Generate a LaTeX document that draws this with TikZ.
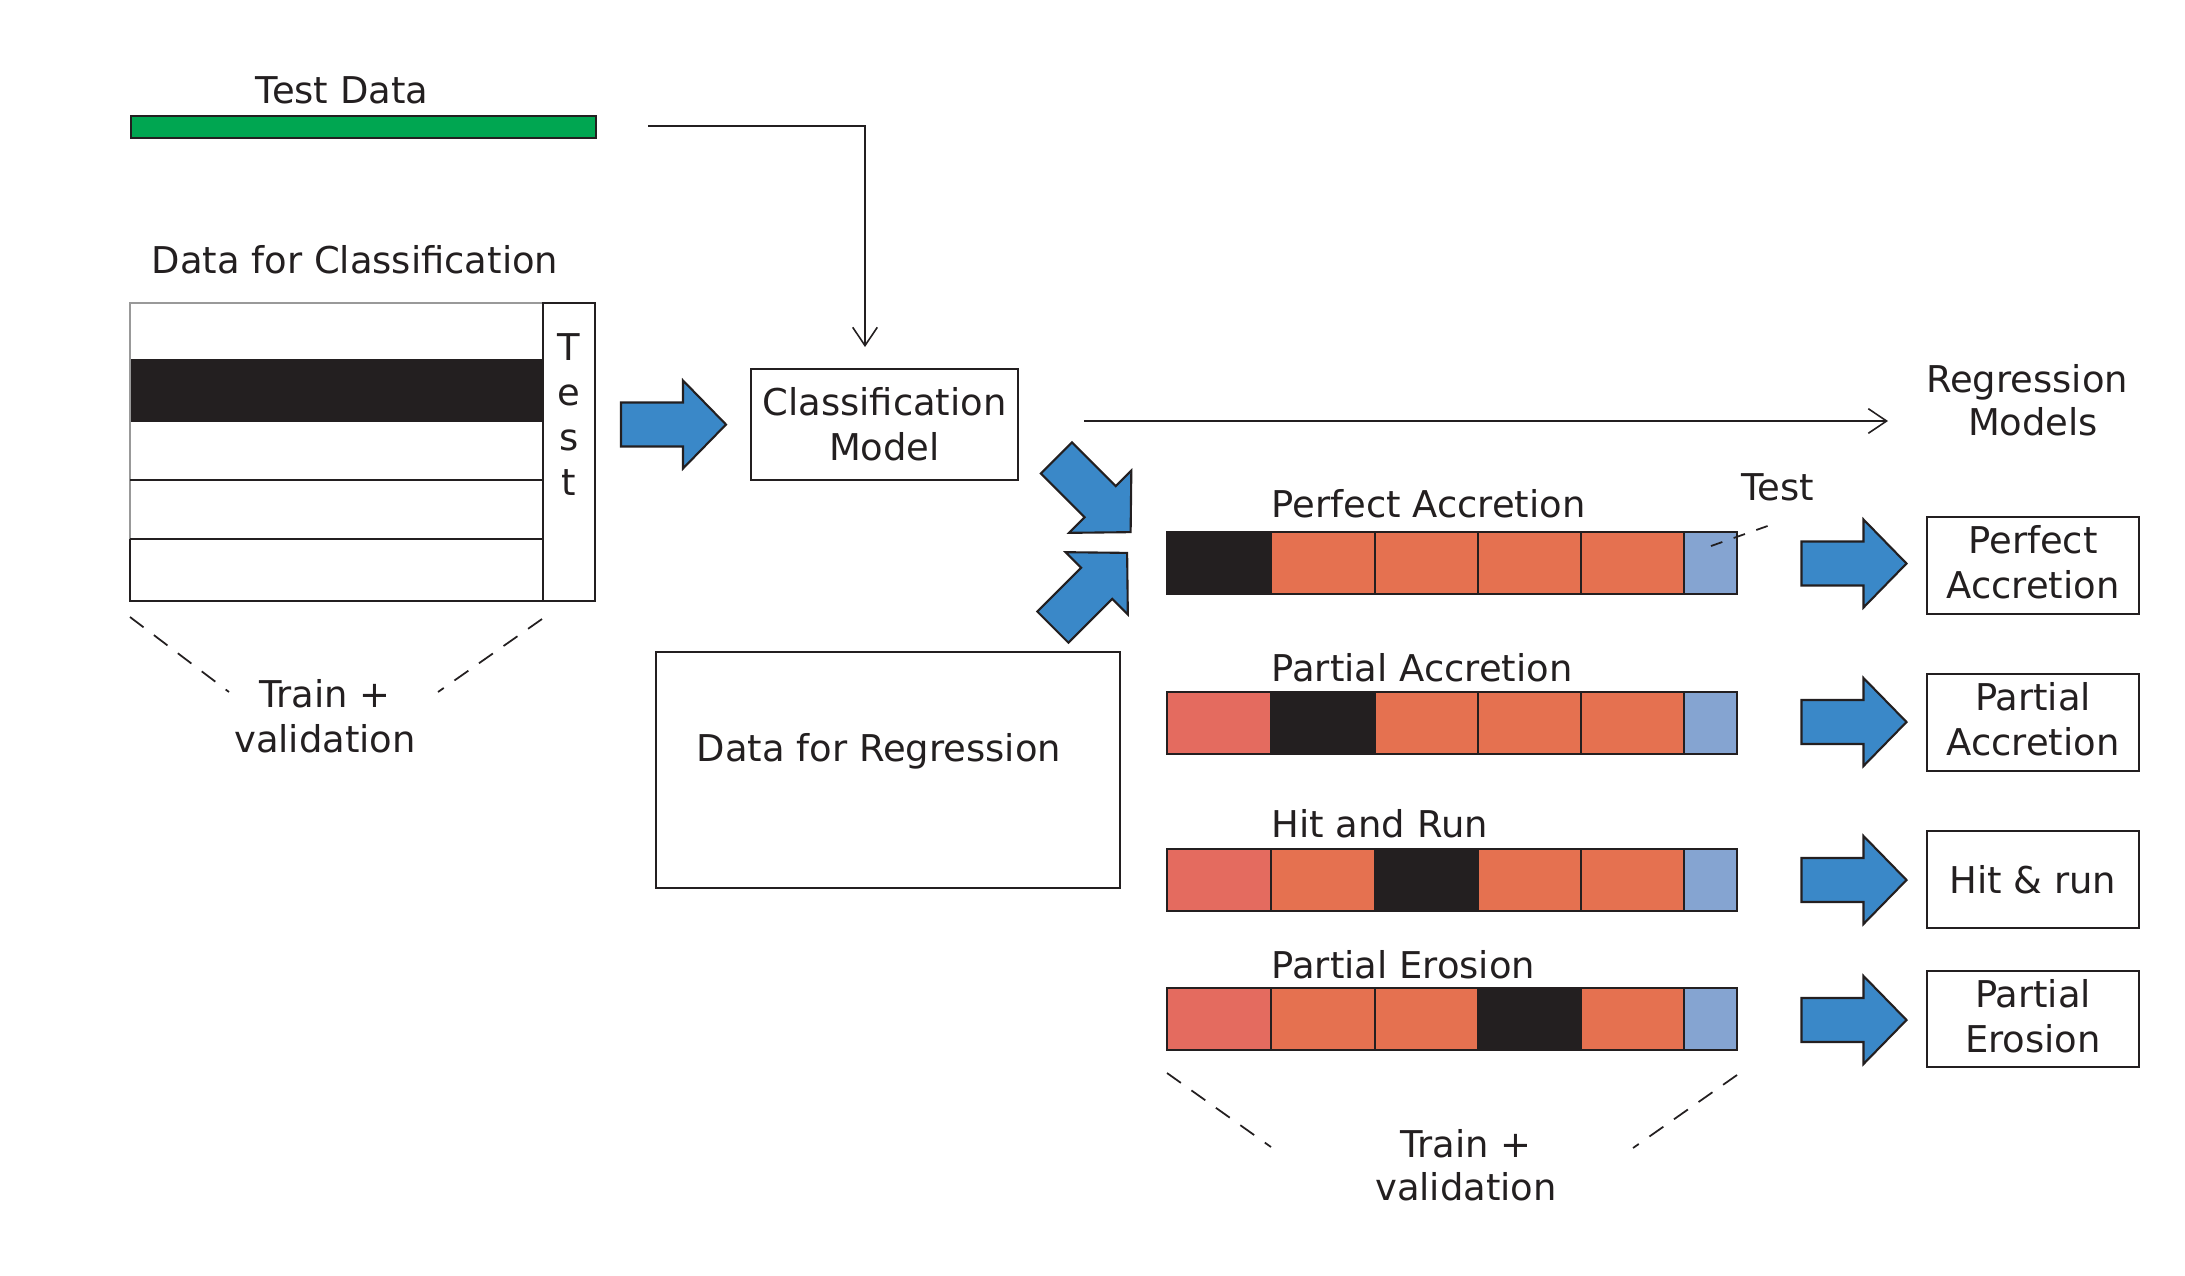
\documentclass[tikz,border=0pt]{standalone}
\usepackage{fontspec}
\setmainfont{DejaVu Sans}
\usetikzlibrary{arrows.meta}
\definecolor{ink}{HTML}{231F20}
\definecolor{tdgreen}{HTML}{00A651}
\definecolor{arrblue}{HTML}{3A88C8}
\definecolor{cellor}{HTML}{E57150}
\definecolor{cellpk}{HTML}{E46B5F}
\definecolor{cellbl}{HTML}{85A4D1}
\newcommand\blockarrow[4]{%
  \draw[bluearr, shift={(#2,#3)}, rotate=#4] (-0.525,-0.22) -- (0.095,-0.22) -- (0.095,-0.44) -- (0.525,0) -- (0.095,0.44) -- (0.095,0.22) -- (-0.525,0.22) -- cycle;
  \coordinate (#1) at (#2,#3);}
\newcommand\regbar[7]{%
  \filldraw[cell, fill=#3] (11.67,#2) rectangle (12.71,#2+0.62);
  \filldraw[cell, fill=#4] (12.71,#2) rectangle (13.75,#2+0.62);
  \filldraw[cell, fill=#5] (13.75,#2) rectangle (14.78,#2+0.62);
  \filldraw[cell, fill=#6] (14.78,#2) rectangle (15.81,#2+0.62);
  \filldraw[cell, fill=#7] (15.81,#2) rectangle (16.84,#2+0.62);
  \filldraw[cell, fill=cellbl] (16.84,#2) rectangle (17.37,#2+0.62);
  \coordinate (#1) at (14.52,#2+0.31);}
\begin{document}
\begin{tikzpicture}[x=1cm, y=-1cm,
  font=\fontsize{10.5pt}{12.8pt}\selectfont, text=ink,
  lbl/.style={inner sep=0pt, anchor=base},
  box/.style={draw=ink, line width=0.6pt, inner sep=0pt, align=center},
  conn/.style={draw=ink, line width=0.45pt, -{Straight Barb[length=5.2pt,width=7pt]}},
  bluearr/.style={fill=arrblue, draw=ink, line width=0.6pt, line join=miter},
  cell/.style={draw=ink, line width=0.5pt},
  dsh/.style={draw=ink, line width=0.5pt, dash pattern=on 0.17cm off 0.13cm},
  dshs/.style={draw=ink, line width=0.5pt, dash pattern=on 0.12cm off 0.12cm}]
\useasboundingbox (0,0) rectangle (21.85,12.75);

% Test data
\node[lbl] (tdlbl) at (3.42,1.03) {Test Data};
\filldraw[draw=ink, line width=0.6pt, fill=tdgreen] (1.31,1.16) rectangle (5.96,1.38);
\coordinate (tds) at (6.48,1.26);
\coordinate (tde) at (8.65,3.47);
\draw[conn] (tds) -| (tde);

% Data for classification
\node[lbl] (dcl) at (3.55,2.73) {Data for Classification};
\fill[ink] (1.30,3.59) rectangle (5.43,4.22);
\draw[gray!80, line width=0.6pt] (1.30,5.39) -- (1.30,3.03) -- (5.43,3.03);
\draw[ink, line width=0.6pt] (1.30,5.39) -- (1.30,6.01) -- (5.95,6.01) -- (5.95,3.03) -- (5.43,3.03) -- (5.43,6.01);
\draw[ink, line width=0.6pt] (1.30,4.80) -- (5.43,4.80) (1.30,5.39) -- (5.43,5.39);
\foreach \ch/\yy [count=\i] in {T/3.60,e/4.05,s/4.50,t/4.95}
  \node[lbl] (tl\i) at (5.69,\yy) {\ch};
\coordinate (dl1) at (1.30,6.17); \coordinate (dl2) at (2.29,6.92);
\coordinate (dl3) at (5.42,6.19); \coordinate (dl4) at (4.38,6.92);
\draw[dsh] (dl1) -- (dl2);
\draw[dsh] (dl3) -- (dl4);
\node[lbl] (tv1) at (3.25,7.07) {Train +};
\node[lbl] (tv2) at (3.25,7.52) {validation};

% classification model
\blockarrow{ba0}{6.735}{4.245}{0}
\node[box, minimum width=2.67cm, minimum height=1.11cm] (cm) at (8.845,4.245) {Classification\\Model};

% regression models connector
\coordinate (rms) at (10.84,4.21);
\coordinate (rme) at (18.88,4.21);
\draw[conn] (rms) -- (rme);
\node[lbl] (rm1) at (20.27,3.92) {Regression};
\node[lbl] (rm2) at (20.33,4.35) {Models};

% diagonal arrows
\blockarrow{ba1}{10.935}{4.95}{-45}
\blockarrow{ba2}{10.90}{5.90}{45}

% data for regression
\node[draw=ink, line width=0.6pt, minimum width=4.64cm, minimum height=2.36cm, inner sep=0pt] (dr) at (8.88,7.70) {};
\node[lbl] (drt) at (8.79,7.61) {Data for Regression};

% bars
\node[lbl, anchor=base west] (l1) at (12.71,5.17) {Perfect Accretion};
\regbar{b1}{5.32}{ink}{cellor}{cellor}{cellor}{cellor}
\node[lbl, anchor=base west] (l2) at (12.71,6.81) {Partial Accretion};
\regbar{b2}{6.92}{cellpk}{ink}{cellor}{cellor}{cellor}
\node[lbl, anchor=base west] (l3) at (12.71,8.37) {Hit and Run};
\regbar{b3}{8.49}{cellpk}{cellor}{ink}{cellor}{cellor}
\node[lbl, anchor=base west] (l4) at (12.71,9.78) {Partial Erosion};
\regbar{b4}{9.88}{cellpk}{cellor}{cellor}{ink}{cellor}

% test label
\node[lbl] (tst) at (17.78,5.00) {Test};
\coordinate (ts1) at (17.11,5.46); \coordinate (ts2) at (17.76,5.23);
\draw[dshs] (ts1) -- (ts2);

% bottom train + validation
\coordinate (bl1) at (11.67,10.73); \coordinate (bl2) at (12.71,11.47);
\coordinate (bl3) at (17.37,10.75); \coordinate (bl4) at (16.33,11.48);
\draw[dsh] (bl1) -- (bl2);
\draw[dsh] (bl3) -- (bl4);
\node[lbl] (btv1) at (14.66,11.57) {Train +};
\node[lbl] (btv2) at (14.66,12.00) {validation};

% right arrows and result boxes
\blockarrow{ra1}{18.54}{5.635}{0}
\blockarrow{ra2}{18.54}{7.22}{0}
\blockarrow{ra3}{18.54}{8.80}{0}
\blockarrow{ra4}{18.54}{10.20}{0}
\node[box, text depth=0.07cm, minimum width=2.12cm, minimum height=0.97cm] (r1) at (20.33,5.655) {Perfect\\Accretion};
\node[box, text depth=0.07cm, minimum width=2.12cm, minimum height=0.97cm] (r2) at (20.33,7.225) {Partial\\Accretion};
\node[box, minimum width=2.12cm, minimum height=0.97cm] (r3) at (20.33,8.795) {Hit \& run};
\node[box, text depth=0.07cm, minimum width=2.12cm, minimum height=0.96cm] (r4) at (20.33,10.19) {Partial\\Erosion};
\end{tikzpicture}
\end{document}
